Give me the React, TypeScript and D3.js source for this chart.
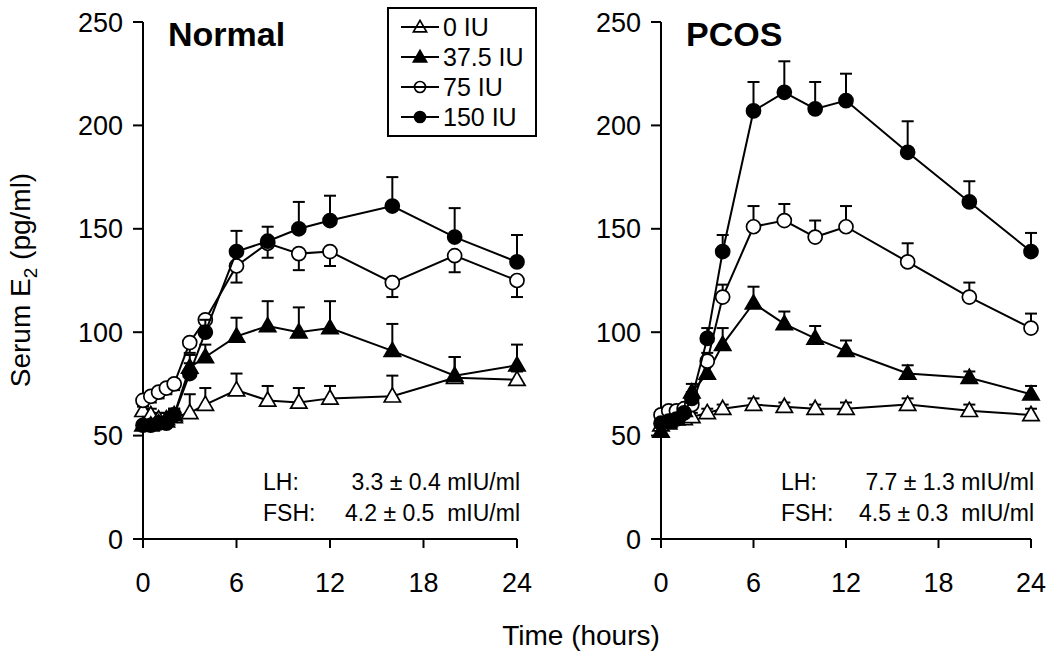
import React from 'react'
import * as d3 from 'd3'

// sampling times (hours)
const times = [0, 0.5, 1, 1.5, 2, 3, 4, 6, 8, 10, 12, 16, 20, 24]
const doses = ['0 IU', '37.5 IU', '75 IU', '150 IU']
const yTicks = [0, 50, 100, 150, 200, 250]
const xTicks = [0, 6, 12, 18, 24]

// Normal women
const normal0 = [62, 60, 58, 58, 59, 61, 65, 72, 67, 66, 68, 69, 78, 77]
const normal0Err = [3, 3, 3, 3, 3, 9, 8, 8, 7, 7, 6, 10, 10, 4]
const normal375 = [55, 55, 56, 57, 60, 83, 88, 98, 103, 100, 102, 91, 79, 84]
const normal375Err = [2, 2, 2, 2, 3, 6, 6, 9, 12, 12, 13, 13, 9, 10]
const normal75 = [67, 69, 71, 73, 75, 95, 106, 132, 143, 138, 139, 124, 137, 125]
const normal75Err = [3, 3, 3, 3, 3, 5, 5, 8, 7, 8, 7, 7, 8, 8]
const normal150 = [55, 55, 56, 56, 60, 80, 100, 139, 144, 150, 154, 161, 146, 134]
const normal150Err = [2, 2, 2, 2, 3, 5, 6, 10, 7, 13, 12, 14, 14, 13]

// PCOS women
const pcos0 = [55, 57, 58, 58, 59, 61, 63, 65, 64, 63, 63, 65, 62, 60]
const pcos0Err = [2, 2, 2, 2, 2, 2, 2, 3, 2, 2, 3, 3, 3, 3]
const pcos375 = [52, 56, 58, 62, 71, 80, 94, 114, 104, 97, 91, 80, 78, 70]
const pcos375Err = [2, 2, 2, 3, 4, 5, 8, 8, 6, 6, 5, 4, 3, 4]
const pcos75 = [60, 62, 62, 63, 65, 86, 117, 151, 154, 146, 151, 134, 117, 102]
const pcos75Err = [2, 2, 2, 2, 3, 4, 6, 10, 8, 8, 10, 9, 7, 7]
const pcos150 = [56, 57, 58, 61, 68, 97, 139, 207, 216, 208, 212, 187, 163, 139]
const pcos150Err = [2, 2, 2, 2, 3, 5, 8, 14, 15, 13, 13, 15, 10, 9]

const FONT = '"Liberation Sans", Arial, sans-serif'

// marker kinds per dose
const markers = [
  { shape: 'tri', filled: false },
  { shape: 'tri', filled: true },
  { shape: 'circle', filled: false },
  { shape: 'circle', filled: true },
]

const panels = [
  {
    title: 'Normal', x0: 143, x1: 517,
    series: [normal0, normal375, normal75, normal150],
    errs: [normal0Err, normal375Err, normal75Err, normal150Err],
    dir: [1, 1, -1, 1],
    lh: '3.3 ± 0.4 mIU/ml', fsh: '4.2 ± 0.5  mIU/ml',
  },
  {
    title: 'PCOS', x0: 661, x1: 1031,
    series: [pcos0, pcos375, pcos75, pcos150],
    errs: [pcos0Err, pcos375Err, pcos75Err, pcos150Err],
    dir: [1, 1, 1, 1],
    lh: '7.7 ± 1.3 mIU/ml', fsh: '4.5 ± 0.3  mIU/ml',
  },
]

const y = d3.scaleLinear().domain([0, 250]).range([539, 22])
const triPath = d3.symbol(d3.symbolTriangle, 115)()
const triSmall = d3.symbol(d3.symbolTriangle, 75)()

function Marker({ cx, cy, kind, small }: any) {
  const fill = kind.filled ? '#000' : small ? 'none' : '#fff'
  if (kind.shape === 'circle') {
    return <circle cx={cx} cy={cy} r={small ? 5.5 : 7} fill={fill} stroke="#000" strokeWidth={1.7} />
  }
  return <path d={(small ? triSmall : triPath) as string} transform={`translate(${cx},${cy + 1})`} fill={fill} stroke="#000" strokeWidth={1.7} />
}

function Panel({ p }: any) {
  const x = d3.scaleLinear().domain([0, 24]).range([p.x0, p.x1])
  const line = d3.line<number>().x((_, i) => x(times[i])).y((v) => y(v))
  return (
    <g>
      {/* axes */}
      <line x1={x(0)} x2={x(0)} y1={y(0)} y2={y(250)} stroke="#000" strokeWidth={2} />
      <line x1={x(0) - 10} x2={x(24)} y1={y(0)} y2={y(0)} stroke="#000" strokeWidth={2} />
      {yTicks.map((t) => (
        <g key={t}>
          <line x1={x(0) - 10} x2={x(0)} y1={y(t)} y2={y(t)} stroke="#000" strokeWidth={2} />
          <text x={x(0) - 20} y={y(t) + 9.5} textAnchor="end" fontSize={27} fontFamily={FONT}>{t}</text>
        </g>
      ))}
      {xTicks.map((t) => (
        <g key={t}>
          <line x1={x(t)} x2={x(t)} y1={y(0)} y2={y(0) + 9} stroke="#000" strokeWidth={2} />
          <text x={x(t)} y={592} textAnchor="middle" fontSize={27} fontFamily={FONT}>{t}</text>
        </g>
      ))}
      <text x={x(0) + 25} y={46} fontSize={34} fontWeight="bold" fontFamily={FONT}>{p.title}</text>

      {/* series */}
      {p.series.map((vals: number[], si: number) => (
        <g key={si}>
          <path d={line(vals) as string} fill="none" stroke="#000" strokeWidth={2} />
          {vals.map((v, i) => {
            const e = p.errs[si][i] * p.dir[si]
            const cx = x(times[i])
            return (
              <g key={i} stroke="#000" strokeWidth={2}>
                <line x1={cx} x2={cx} y1={y(v)} y2={y(v + e)} />
                <line x1={cx - 6} x2={cx + 6} y1={y(v + e)} y2={y(v + e)} />
              </g>
            )
          })}
          {vals.map((v, i) => (
            <Marker key={'m' + i} cx={x(times[i])} cy={y(v)} kind={markers[si]} />
          ))}
        </g>
      ))}

      {/* hormone levels */}
      <text x={p.x0 + 120} y={490} fontSize={23} fontFamily={FONT}>LH:</text>
      <text x={p.x1 + 3} y={490} textAnchor="end" fontSize={23} fontFamily={FONT} style={{ whiteSpace: 'pre' }}>{p.lh}</text>
      <text x={p.x0 + 120} y={521} fontSize={23} fontFamily={FONT}>FSH:</text>
      <text x={p.x1 + 3} y={521} textAnchor="end" fontSize={23} fontFamily={FONT} style={{ whiteSpace: 'pre' }}>{p.fsh}</text>
    </g>
  )
}

export default function App() {
  return (
    <svg width={1050} height={663} style={{ position: 'absolute', left: 0, top: 0, background: '#fff' }}>
      <rect width={1050} height={663} fill="#fff" />
      {panels.map((p) => <Panel key={p.title} p={p} />)}

      {/* legend */}
      <rect x={388} y={8} width={148} height={128} fill="#fff" stroke="#000" strokeWidth={2} />
      {doses.map((d, i) => {
        const ly = 27 + i * 30
        return (
          <g key={d}>
            <line x1={401} x2={439} y1={ly} y2={ly} stroke="#000" strokeWidth={2} />
            <Marker cx={420} cy={ly} kind={markers[i]} small />
            <text x={443} y={ly + 9} fontSize={25} fontFamily={FONT}>{d}</text>
          </g>
        )
      })}

      {/* axis titles */}
      <text transform="translate(30,280) rotate(-90)" textAnchor="middle" fontSize={28} fontFamily={FONT}>
        Serum E<tspan fontSize={19} dy={7}>2</tspan><tspan dy={-7}> (pg/ml)</tspan>
      </text>
      <text x={581} y={645} textAnchor="middle" fontSize={28} fontFamily={FONT}>Time (hours)</text>
    </svg>
  )
}
